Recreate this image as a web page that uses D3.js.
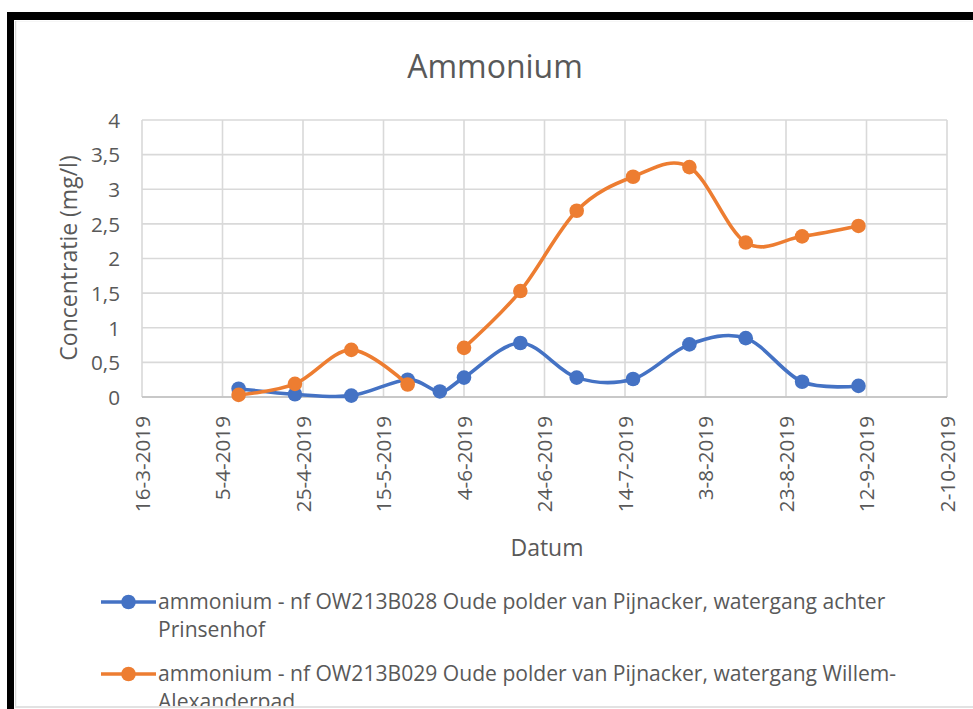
<!DOCTYPE html>
<html>
<head>
<meta charset="utf-8">
<script src="https://cdn.jsdelivr.net/npm/d3@7"></script>
<style>
  html, body { margin: 0; padding: 0; background: #fff; }
  svg { display: block; }
  text { font-family: "Open Sans", "DejaVu Sans", sans-serif; fill: #595959; }
</style>
</head>
<body>
<svg id="chart" width="973" height="709"></svg>
<script>
// ---- data ----
const sampleDates = ["9-4-2019","23-4-2019","7-5-2019","21-5-2019","29-5-2019","4-6-2019","18-6-2019","2-7-2019","16-7-2019","30-7-2019","13-8-2019","27-8-2019","10-9-2019"];
const seriesB028 = [0.12, 0.04, 0.02, 0.25, 0.08, 0.28, 0.78, 0.28, 0.26, 0.76, 0.85, 0.22, 0.16];
const seriesB029 = [0.03, 0.19, 0.68, 0.18, null, 0.71, 1.53, 2.69, 3.18, 3.32, 2.23, 2.32, 2.47];
const xTickLabels = ["16-3-2019","5-4-2019","25-4-2019","15-5-2019","4-6-2019","24-6-2019","14-7-2019","3-8-2019","23-8-2019","12-9-2019","2-10-2019"];
const yTickValues = [0, 0.5, 1, 1.5, 2, 2.5, 3, 3.5, 4];
const seriesNames = [
  ["ammonium - nf OW213B028 Oude polder van Pijnacker, watergang achter", "Prinsenhof"],
  ["ammonium - nf OW213B029 Oude polder van Pijnacker, watergang Willem-", "Alexanderpad"]
];
const seriesColors = ["#4472C4", "#ED7D31"];
const titleText = "Ammonium";
const yTitle = "Concentratie (mg/l)";
const xTitle = "Datum";

// ---- helpers ----
const parseD = s => { const [d, m, y] = s.split("-").map(Number); return new Date(Date.UTC(y, m - 1, d)); };
const fmtComma = v => String(v).replace(".", ",");

const svg = d3.select("#chart");

// frame
svg.append("rect").attr("x", 7).attr("y", 12).attr("width", 966).attr("height", 8).attr("fill", "#000");
svg.append("rect").attr("x", 7).attr("y", 12).attr("width", 7).attr("height", 697).attr("fill", "#000");

svg.append("defs").append("clipPath").attr("id", "areaClip")
  .append("rect").attr("x", 15).attr("y", 21).attr("width", 958).attr("height", 685);

const root = svg.append("g").attr("clip-path", "url(#areaClip)");
// chart border
root.append("path").attr("d", "M15.5,709 V20.5 H973").attr("fill", "none").attr("stroke", "#D9D9D9").attr("stroke-width", 1.5);
svg.append("line").attr("x1", 15).attr("x2", 973).attr("y1", 707).attr("y2", 707).attr("stroke", "#D9D9D9").attr("stroke-width", 1.5);

const plot = { left: 142, right: 947, top: 120, bottom: 397 };

const x = d3.scaleUtc()
  .domain([parseD(xTickLabels[0]), parseD(xTickLabels[xTickLabels.length - 1])])
  .range([plot.left, plot.right]);
const y = d3.scaleLinear().domain([0, 4]).range([plot.bottom, plot.top]);

// gridlines
const grid = root.append("g");
grid.selectAll("line.h").data(yTickValues).join("line")
  .attr("x1", plot.left).attr("x2", plot.right)
  .attr("y1", d => y(d)).attr("y2", d => y(d))
  .attr("stroke", "#D9D9D9").attr("stroke-width", 1.6);
grid.selectAll("line.v").data(xTickLabels.map(parseD)).join("line")
  .attr("x1", d => x(d)).attr("x2", d => x(d))
  .attr("y1", plot.top).attr("y2", plot.bottom)
  .attr("stroke", "#D9D9D9").attr("stroke-width", 1.6);

// y axis labels
const yAxis = d3.axisLeft(y).tickValues(yTickValues).tickFormat(fmtComma).tickSize(0).tickPadding(0);
const yg = root.append("g").attr("transform", `translate(${plot.left - 22},0)`).call(yAxis);
yg.select(".domain").remove();
yg.selectAll("text").attr("font-size", "20.7px").attr("fill", "#595959")
  .attr("font-family", '"Open Sans", sans-serif').attr("dy", "0.35em");

// x axis line (bottom)
root.append("line").attr("x1", plot.left).attr("x2", plot.right)
  .attr("y1", plot.bottom).attr("y2", plot.bottom).attr("stroke", "#BFBFBF").attr("stroke-width", 1.6);

// x axis labels (rotated)
const xAxis = d3.axisBottom(x).tickValues(xTickLabels.map(parseD))
  .tickFormat((d, i) => xTickLabels[i]).tickSize(0).tickPadding(0);
const xg = root.append("g").attr("transform", `translate(0,${plot.bottom})`).call(xAxis);
xg.select(".domain").remove();
xg.selectAll("text")
  .attr("font-size", "20.7px").attr("fill", "#595959").attr("font-family", '"Open Sans", sans-serif')
  .attr("text-anchor", "end")
  .attr("transform", "translate(0,19) rotate(-90)")
  .attr("x", 0).attr("y", 0).attr("dy", "0.36em");

// titles
root.append("text").attr("x", 495).attr("y", 78).attr("text-anchor", "middle")
  .attr("font-size", "32px").text(titleText);
root.append("text").attr("transform", "translate(68.5,258) rotate(-90)").attr("text-anchor", "middle")
  .attr("dy", "0.35em").attr("font-size", "23px").text(yTitle);
root.append("text").attr("x", 547).attr("y", 556).attr("text-anchor", "middle")
  .attr("font-size", "23px").text(xTitle);

// series
const dates = sampleDates.map(parseD);
const allSeries = [seriesB028, seriesB029];
const line = d3.line()
  .defined(d => d.v != null)
  .x(d => x(d.t)).y(d => y(d.v))
  .curve(d3.curveCardinal.tension(0));

allSeries.forEach((vals, si) => {
  const pts = vals.map((v, i) => ({ t: dates[i], v }));
  const g = root.append("g");
  g.append("path").datum(pts).attr("d", line)
    .attr("fill", "none").attr("stroke", seriesColors[si]).attr("stroke-width", 3.6)
    .attr("stroke-linejoin", "round").attr("stroke-linecap", "round");
  g.selectAll("circle").data(pts.filter(d => d.v != null)).join("circle")
    .attr("cx", d => x(d.t)).attr("cy", d => y(d.v)).attr("r", 7.3)
    .attr("fill", seriesColors[si]);
});

// legend
const legendRows = [602, 674];
seriesNames.forEach((lines, si) => {
  const g = root.append("g").attr("transform", `translate(0,${legendRows[si]})`);
  g.append("line").attr("x1", 101).attr("x2", 156).attr("y1", 0).attr("y2", 0)
    .attr("stroke", seriesColors[si]).attr("stroke-width", 3.6);
  g.append("circle").attr("cx", 128.5).attr("cy", 0).attr("r", 7.3).attr("fill", seriesColors[si]);
  const t = g.append("text").attr("x", 158).attr("y", 0).attr("font-size", "21.1px");
  lines.forEach((ln, li) => {
    t.append("tspan").attr("x", 158).attr("dy", li === 0 ? "0.35em" : "28px").text(ln);
  });
});
</script>
</body>
</html>
